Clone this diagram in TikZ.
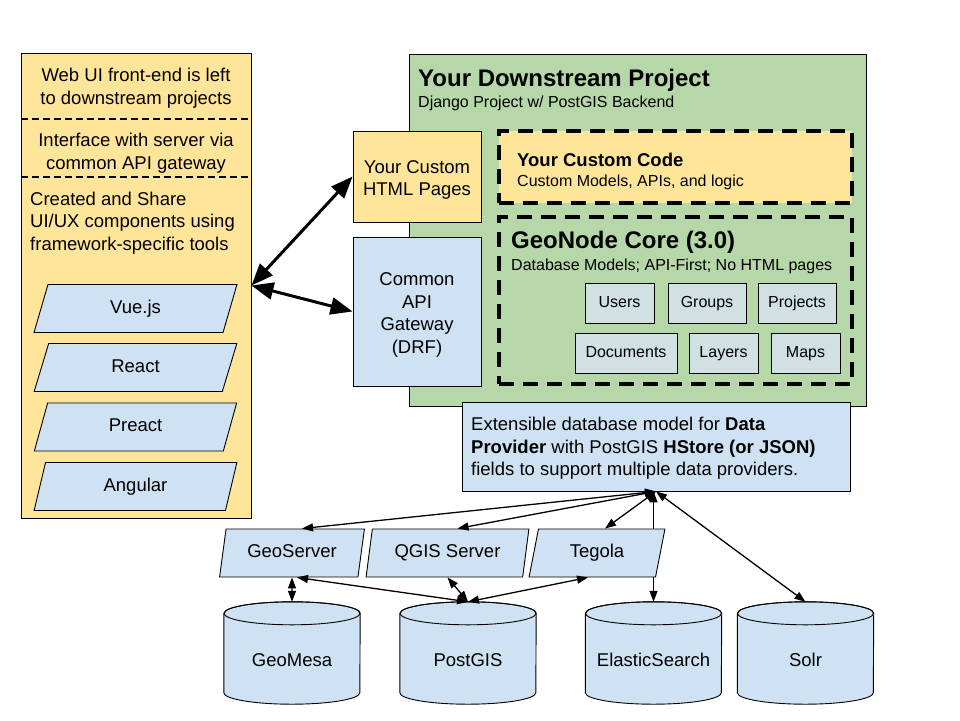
\documentclass[tikz,border=0pt]{standalone}
\usepackage{fontspec}
\setmainfont{Liberation Sans}
\usetikzlibrary{shapes}
\usetikzlibrary{arrows,arrows.meta}
\definecolor{paleyellow}{HTML}{FFE599}
\definecolor{palegreen}{HTML}{B6D7A8}
\definecolor{paleblue}{HTML}{CFE2F3}
\definecolor{palecyan}{HTML}{D0E0E3}
\newcommand{\gnbody}{\fontsize{18.5}{22.5}\selectfont}
\newcommand{\gnsmall}{\fontsize{16}{19}\selectfont}
\newcommand{\gnbold}{\fontsize{18.5}{22}\selectfont\bfseries}
\newcommand{\gnhead}{\fontsize{24}{28}\selectfont\bfseries}
\tikzstyle{box} = [draw, rectangle, line width=0.9pt, inner sep=0]
\tikzstyle{words} = [inner sep=0, font=\gnbody, align=center]
\tikzstyle{slanted} = [draw, trapezium, trapezium left angle=77, trapezium right angle=103, trapezium stretches=true, fill=paleblue, line width=0.9pt, inner sep=0, font=\gnbody, text height=13.5pt, text depth=4pt]
\tikzstyle{dbspace} = [minimum width=136pt, minimum height=102pt, inner sep=0]
\tikzstyle{dbline} = [fill=paleblue, draw, line width=0.9pt]
\tikzstyle{module} = [box, fill=palecyan, font=\gnsmall, text height=11.5pt, text depth=3.5pt]
\tikzstyle{zone} = [draw, rectangle, line width=4pt, dash pattern=on 15pt off 9pt, inner sep=0]
\tikzstyle{thindash} = [line width=1.4pt, dash pattern=on 7pt off 4pt]
\tikzstyle{link} = [{Triangle[length=11pt, width=8pt]}-{Triangle[length=11pt, width=8pt]}, line width=1.3pt]
\tikzstyle{biglink} = [{Triangle[length=22pt, width=17pt]}-{Triangle[length=22pt, width=17pt]}, line width=3pt]
\tikzset{>={triangle 45}}

\begin{document}
\begin{tikzpicture}[x=1pt, y=-1pt]
  \useasboundingbox (0,0) rectangle (960,720);
  % Front-end column
  \node[box, fill=paleyellow, minimum width=230pt, minimum height=465pt] (frontend) at (136,285.5) {};
  \draw[thindash] (frontend.west |- 0,119) -- (frontend.east |- 0,119);
  \draw[thindash] (frontend.west |- 0,177) -- (frontend.east |- 0,177);
  \node[words] (webui) at (136,88) {Web UI front-end is left\\to downstream projects};
  \node[words] (gateway) at (136,153) {Interface with server via\\common API gateway};
  \node[words, align=left, anchor=west] (share) at (30,223) {Created and Share\\UI/UX components using\\framework-specific tools};
  % Frameworks
  \foreach \name/\y/\text in {vue/308.5/Vue.js, react/367.5/React, preact/427/Preact, angular/486.5/Angular} {
    \node[slanted, minimum width=203pt, minimum height=48pt] (\name) at (135.5,\y) {\text};
  }
  % Downstream project
  \node[box, fill=palegreen, minimum width=457pt, minimum height=352pt] (project) at (637.5,230) {};
  \node[words, anchor=base west, font=\gnhead] (projtitle) at (418,86) {Your Downstream Project};
  \node[words, anchor=base west, font=\gnsmall] (projsub) at (418,107) {Django Project w/ PostGIS Backend};
  \node[box, fill=paleyellow, minimum width=128pt, minimum height=91pt] (html) at (417,176.5) {};
  \node[words] (htmltext) at (417,180) {Your Custom\\HTML Pages};
  \node[box, fill=paleblue, minimum width=128pt, minimum height=149pt] (api) at (417,311.5) {};
  \node[words] (apitext) at (417,315) {Common\\API\\Gateway\\(DRF)};
  % Custom code and core
  \node[zone, fill=paleyellow, minimum width=353pt, minimum height=72pt] (custom) at (675.5,167) {};
  \node[words, anchor=base west, font=\gnbold] (customtitle) at (517,166) {Your Custom Code};
  \node[words, anchor=base west, font=\gnsmall] (customsub) at (517,186) {Custom Models, APIs, and logic};
  \node[zone, minimum width=353pt, minimum height=167pt] (core) at (675.5,300.5) {};
  \node[words, anchor=base west, font=\gnhead] (coretitle) at (511,248) {GeoNode Core (3.0)};
  \node[words, anchor=base west, font=\gnsmall] (coresub) at (511,270) {Database Models; API-First; No HTML pages};
  \foreach \name/\x/\y/\w/\text in {users/619.5/303/69/Users, groups/707/303/78/Groups, projects/797/303/78/Projects, documents/626/353.5/102/Documents, layers/723.5/353.5/69/Layers, maps/805.5/353.5/69/Maps} {
    \node[module, minimum width=\w pt, minimum height=40pt] (\name) at (\x,\y) {\text};
  }
  % Data provider
  \node[box, fill=paleblue, minimum width=388pt, minimum height=89pt] (provider) at (656,446.5) {};
  \node[words, align=left, anchor=west] (providertext) at (471,448.5) {Extensible database model for \textbf{Data}\\\textbf{Provider} with PostGIS \textbf{HStore (or JSON)}\\fields to support multiple data providers.};
  % Databases
  \foreach \name/\x/\text in {geomesa/292/GeoMesa, postgis/468/PostGIS, elastic/653.5/ElasticSearch, solr/805.5/Solr} {
    \node[dbspace] (\name) at (\x,653) {};
    \filldraw[dbline] ([yshift=-11.5pt]\name.north west) -- ([yshift=11.5pt]\name.south west)
      arc[start angle=180, end angle=360, x radius=68pt, y radius=11.5pt]
      -- ([yshift=-11.5pt]\name.north east)
      arc[start angle=0, end angle=180, x radius=68pt, y radius=11.5pt] -- cycle;
    \draw[line width=0.9pt] ([yshift=-11.5pt]\name.north) ellipse [x radius=68pt, y radius=11.5pt];
    \node[words] (\name text) at (\x,660) {\text};
  }
  \draw[link] (provider.south -| elastic.north) -- (elastic.north);
  % Servers
  \foreach \name/\x/\w/\text in {geoserver/292/146/GeoServer, qgis/447.5/163/QGIS Server, tegola/597/136/Tegola} {
    \node[slanted, trapezium left angle=76, trapezium right angle=104, minimum width=\w pt, minimum height=48pt] (\name) at (\x,553) {\text};
  }
  % Connectors
  \draw[biglink] (frontend.east) -- (html.west);
  \draw[biglink] (frontend.east) -- (api.west);
  \draw[link] (provider.south) -- ([xshift=10pt]geoserver.north);
  \draw[link] (provider.south) -- ([xshift=10pt]qgis.north);
  \draw[link] (provider.south) -- ([xshift=8pt]tegola.north);
  \draw[link] (provider.south) -- (solr.north);
  \draw[link] (geomesa.north) -- (geoserver.south);
  \draw[link] ([xshift=5pt]geoserver.south) -- (postgis.north);
  \draw[link] (qgis.south) -- (postgis.north);
  \draw[link] ([xshift=-9pt]tegola.south) -- (postgis.north);
\end{tikzpicture}
\end{document}
